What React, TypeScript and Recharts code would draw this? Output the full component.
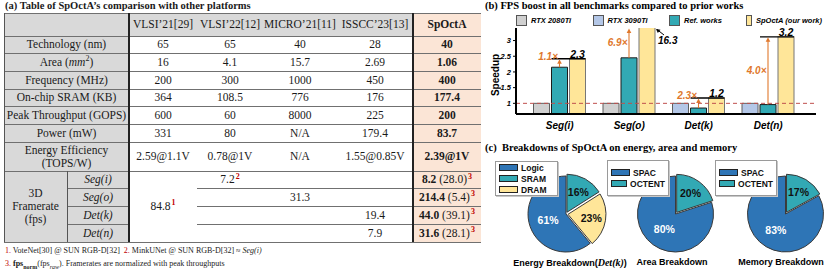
import React from 'react';
import { BarChart, Bar, XAxis, YAxis, Cell, ReferenceLine, PieChart, Pie } from 'recharts';

const SERIF = '"Liberation Serif", "Times New Roman", serif';
const SANS = '"Liberation Sans", Arial, sans-serif';
const GRAY = '#d9d9d9';
const PEACH = '#fbe5d6';
const RED = '#c00000';
const TEAL = '#32a9b4';
const YELLOW = '#ffe699';
const BLUE = '#2e75b6';
const ORANGE = '#e0782c';

// (a) table
const platforms = ['VLSI’21[29]', 'VLSI’22[12]', 'MICRO’21[11]', 'ISSCC’23[13]', 'SpOctA'];
const metricLabels = ['Technology (nm)', 'Area', 'Frequency (MHz)', 'On-chip SRAM (KB)', 'Peak Throughput (GOPS)', 'Power (mW)'];
const technology = ['65', '65', '40', '28', '40'];
const area = ['16', '4.1', '15.7', '2.69', '1.06'];
const frequency = ['200', '300', '1000', '450', '400'];
const sram = ['364', '108.5', '776', '176', '177.4'];
const peakThroughput = ['600', '60', '8000', '225', '200'];
const power = ['331', '80', 'N/A', '179.4', '83.7'];
const efficiency = ['2.59@1.1V', '0.78@1V', 'N/A', '1.55@0.85V', '2.39@1V'];
const benchmarks = ['Seg(i)', 'Seg(o)', 'Det(k)', 'Det(n)'];
const fpsVlsi21 = '84.8';
const fpsVlsi22 = ['7.2', '', '', ''];
const fpsMicro21 = ['', '31.3', '', ''];
const fpsIsscc23 = ['', '', '19.4', '7.9'];
const fpsNorm = ['8.2', '214.4', '44.0', '31.6'];
const fpsRaw = ['28.0', '5.4', '39.1', '28.1'];

// (b) speedup bars
const categories = ['Seg(i)', 'Seg(o)', 'Det(k)', 'Det(n)'];
const gpuNames = ['RTX 2080Ti', 'RTX 2080Ti', 'RTX 3090Ti', 'RTX 3090Ti'];
const gpuSpeedup = [1, 1, 1, 1];
const refSpeedup = [2.15, 2.45, 0.85, 0.96];
const oursSpeedup = [2.42, 16.3, 1.17, 3.12];
const oursLabels = ['2.3', '16.3', '1.2', '3.2'];
const boostLabels = ['1.1×', '6.9×', '2.3×', '4.0×'];
const legendNames = ['RTX 2080Ti', 'RTX 3090Ti', 'Ref. works', 'SpOctA (our work)'];
const yTicks = [1, 1.5, 2, 2.5, 3];

// (c) breakdowns
const energyNames = ['SRAM', 'DRAM', 'Logic'];
const energyShares = [16, 23, 61];
const areaNames = ['OCTENT', 'SPAC'];
const areaShares = [20, 80];
const memoryNames = ['OCTENT', 'SPAC'];
const memoryShares = [17, 83];

const partColor: Record<string, string> = { Logic: BLUE, SPAC: BLUE, SRAM: TEAL, OCTENT: TEAL, DRAM: YELLOW };
const gpuColor: Record<string, string> = { 'RTX 2080Ti': '#d0d0d0', 'RTX 3090Ti': '#b4c7e7' };
const legendColors = ['#d0d0d0', '#b4c7e7', TEAL, YELLOW];

const Y_MIN = 0.66;
const Y_MAX = 3.4;
const BAR_GAP = 2;

const Sup = ({ n }: { n: number }) => (
  <sup style={{ color: RED, fontSize: 8, fontWeight: 'bold', lineHeight: 0, marginLeft: 1 }}>{n}</sup>
);

function TCell({ x, y, w, h, bg, children, bold, italic }: any) {
  return (
    <div
      style={{
        position: 'absolute', left: x, top: y, width: w, height: h, background: bg,
        display: 'flex', alignItems: 'center', justifyContent: 'center', textAlign: 'center',
        fontWeight: bold ? 'bold' : 'normal', fontStyle: italic ? 'italic' : 'normal', whiteSpace: 'nowrap',
      }}
    >
      <span style={{ lineHeight: '13px' }}>{children}</span>
    </div>
  );
}

const Rule = ({ x, y, w, h, c }: any) => (
  <div style={{ position: 'absolute', left: x, top: y, width: w, height: h, background: c }} />
);

function metricLabel(i: number) {
  if (metricLabels[i] === 'Area') {
    return <>Area (<i>mm</i><sup style={{ fontSize: 8, lineHeight: 0 }}>2</sup>)</>;
  }
  return metricLabels[i];
}

function ComparisonTable() {
  const colX = [129, 197, 263, 337, 413, 481];
  const metricTops = [36, 53.7, 71.3, 89, 106.7, 124.3, 142];
  const frTops = [171, 188.75, 206.5, 224.25, 242];
  const metricRows = [technology, area, frequency, sram, peakThroughput, power];
  const cw = (c: number) => colX[c + 1] - colX[c];
  const cells: React.ReactNode[] = [];

  cells.push(<TCell key="corner" x={4} y={13} w={125} h={23} bg={GRAY} />);
  platforms.forEach((p, c) =>
    cells.push(<TCell key={'h' + c} x={colX[c]} y={13} w={cw(c)} h={23} bg={c === 4 ? PEACH : GRAY} bold={c === 4}>{p}</TCell>)
  );
  metricRows.forEach((vals, r) => {
    const y = metricTops[r];
    const h = metricTops[r + 1] - y;
    cells.push(<TCell key={'l' + r} x={4} y={y} w={125} h={h} bg={GRAY}>{metricLabel(r)}</TCell>);
    vals.forEach((v, c) =>
      cells.push(<TCell key={`v${r}-${c}`} x={colX[c]} y={y} w={cw(c)} h={h} bg={c === 4 ? PEACH : '#fff'} bold={c === 4}>{v}</TCell>)
    );
  });
  cells.push(<TCell key="eff" x={4} y={142} w={125} h={29} bg={GRAY}>Energy Efficiency<br />(TOPS/W)</TCell>);
  efficiency.forEach((v, c) =>
    cells.push(<TCell key={'e' + c} x={colX[c]} y={142} w={cw(c)} h={29} bg={c === 4 ? PEACH : '#fff'} bold={c === 4}>{v}</TCell>)
  );
  cells.push(<TCell key="fr" x={4} y={171} w={63} h={71} bg={GRAY}>3D<br />Framerate<br />(fps)</TCell>);
  cells.push(<TCell key="f21" x={colX[0]} y={171} w={cw(0)} h={71}>{fpsVlsi21}<Sup n={1} /></TCell>);
  benchmarks.forEach((b, r) => {
    const y = frTops[r];
    const h = frTops[r + 1] - y;
    cells.push(<TCell key={'b' + r} x={67} y={y} w={62} h={h} bg={GRAY} italic>{b}</TCell>);
    if (fpsVlsi22[r]) cells.push(<TCell key={'f22' + r} x={colX[1]} y={y} w={cw(1)} h={h}>{fpsVlsi22[r]}<Sup n={2} /></TCell>);
    if (fpsMicro21[r]) cells.push(<TCell key={'fm' + r} x={colX[2]} y={y} w={cw(2)} h={h}>{fpsMicro21[r]}</TCell>);
    if (fpsIsscc23[r]) cells.push(<TCell key={'fi' + r} x={colX[3]} y={y} w={cw(3)} h={h}>{fpsIsscc23[r]}</TCell>);
    cells.push(
      <TCell key={'fo' + r} x={colX[4]} y={y} w={cw(4)} h={h} bg={PEACH}>
        <b>{fpsNorm[r]}</b> ({fpsRaw[r]})<Sup n={3} />
      </TCell>
    );
  });

  const lines: React.ReactNode[] = [];
  [13, ...metricTops, 171, 242].forEach((y, i) => lines.push(<Rule key={'hl' + i} x={4} y={y - 0.5} w={477} h={1} c="#707070" />));
  frTops.slice(1, 4).forEach((y, i) => {
    lines.push(<Rule key={'fa' + i} x={67} y={y - 0.5} w={62} h={1} c="#707070" />);
    lines.push(<Rule key={'fb' + i} x={197} y={y - 0.5} w={284} h={1} c="#707070" />);
  });
  lines.push(<Rule key="v0" x={3.5} y={13} w={1} h={229} c="#555" />);
  lines.push(<Rule key="v1" x={128} y={13} w={2} h={229} c="#222" />);
  lines.push(<Rule key="v2" x={412} y={13} w={2} h={229} c="#222" />);
  lines.push(<Rule key="v3" x={66.5} y={171} w={1} h={71} c="#555" />);

  return (
    <div style={{ fontFamily: SERIF, fontSize: 11.5, color: '#1a1a1a' }}>
      <div style={{ position: 'absolute', left: 5, top: 0, fontWeight: 'bold', fontSize: 10.5, whiteSpace: 'nowrap' }}>
        (a) Table of SpOctA’s comparison with other platforms
      </div>
      {cells}
      {lines}
      <div style={{ position: 'absolute', left: 5, top: 246, fontSize: 8, whiteSpace: 'nowrap' }}>
        <span style={{ color: RED }}>1.</span> VoteNet[30] @ SUN RGB-D[32]&nbsp;&nbsp;<span style={{ color: RED }}>2.</span> MinkUNet @ SUN RGB-D[32] ≈ <i>Seg(i)</i>
      </div>
      <div style={{ position: 'absolute', left: 5, top: 259, fontSize: 8, whiteSpace: 'nowrap' }}>
        <span style={{ color: RED }}>3.</span> <b>fps<sub style={{ fontSize: 6 }}>norm</sub></b>(fps<sub style={{ fontSize: 6 }}><i>raw</i></sub>). Framerates are normalized with peak throughputs
      </div>
    </div>
  );
}

function upArrow(cx: number, tipY: number, color: string) {
  return <polygon points={`${cx - 2.3},${tipY + 4.5} ${cx + 2.3},${tipY + 4.5} ${cx},${tipY}`} fill={color} />;
}

function drawOursBar(props: any) {
  const { x, y, width, height, payload, fill, stroke } = props;
  const bottom = y + height;
  const k = height / (payload.ours - Y_MIN);
  const plotTop = bottom - (Y_MAX - Y_MIN) * k;
  const tealX = x - width - BAR_GAP;
  const tealCx = tealX + width / 2;
  const tealTop = bottom - (payload.refWork - Y_MIN) * k;
  const overflow = payload.ours > Y_MAX;
  const lineY = overflow ? plotTop : y;
  const gap = tealTop - lineY;
  const boostY = gap < 14 ? lineY - 2 : (tealTop + lineY) / 2;
  return (
    <g>
      <rect x={x} y={y} width={width} height={height} fill={fill} stroke={stroke} strokeWidth={1} />
      {!overflow && (
        <g>
          <line x1={tealX} x2={x + width} y1={lineY} y2={lineY} stroke="#000" strokeWidth={1.3} />
          <text x={x + width / 2} y={lineY - 0.8} textAnchor="middle" fontSize={10.5} fill="#000" fontFamily={SANS} fontWeight="bold" fontStyle="italic">{payload.oursLabel}</text>
        </g>
      )}
      {overflow && (
        <g>
          <text x={x + width + 3} y={plotTop + 12} dominantBaseline="central" fontSize={10} fill="#000" fontFamily={SANS} fontWeight="bold" fontStyle="italic">{payload.oursLabel}</text>
          <line x1={x + width + 9} y1={plotTop + 7} x2={x + width + 2} y2={plotTop + 1.5} stroke="#000" strokeWidth={1} />
          <polygon points={`${x + width + 1},${plotTop + 1} ${x + width + 5.5},${plotTop + 1.8} ${x + width + 2.8},${plotTop + 5}`} fill="#000" />
        </g>
      )}
      <line x1={tealCx} x2={tealCx} y1={tealTop} y2={lineY + 3} stroke={ORANGE} strokeWidth={1.1} />
      {upArrow(tealCx, lineY + 0.5, ORANGE)}
      <text x={tealCx - 1.5} y={boostY} textAnchor="end" dominantBaseline="central" fontSize={10} fill={ORANGE} fontFamily={SANS} fontWeight="bold" fontStyle="italic">{payload.boost}</text>
    </g>
  );
}

function SpeedupChart() {
  const data = categories.map((c, i) => ({
    cat: c, gpuName: gpuNames[i], gpu: gpuSpeedup[i], refWork: refSpeedup[i], ours: oursSpeedup[i],
    oursLabel: oursLabels[i], boost: boostLabels[i],
  }));
  const frame = { stroke: '#000', strokeWidth: 2 };
  return (
    <BarChart width={340} height={118} data={data} margin={{ top: 14, right: 6, bottom: 0, left: 0 }} barGap={BAR_GAP} barCategoryGap={8.5}>
      <XAxis dataKey="cat" height={18} padding={{ left: 9, right: 13 }} tickLine={false} axisLine={frame}
        tick={{ fill: '#000', fontSize: 10, fontWeight: 'bold', fontStyle: 'italic', fontFamily: SANS }} interval={0} />
      <XAxis xAxisId="top" orientation="top" dataKey="cat" height={0} tick={false} tickLine={false} axisLine={frame} />
      <YAxis domain={[Y_MIN, Y_MAX]} allowDataOverflow ticks={yTicks} interval={0} width={34} tickSize={3}
        tickLine={{ stroke: '#000' }} axisLine={frame}
        tick={{ fill: '#000', fontSize: 7.5, fontWeight: 'bold', fontStyle: 'italic', fontFamily: SANS }} />
      <YAxis yAxisId="right" orientation="right" width={0} domain={[0, 1]} tick={false} tickLine={false} axisLine={frame} />
      <ReferenceLine y={1} stroke="#c0504d" strokeDasharray="4 3" strokeWidth={1} />
      <Bar dataKey="gpu" isAnimationActive={false} stroke="#5f5f5f" strokeWidth={1}>
        {data.map((d, i) => <Cell key={i} fill={gpuColor[d.gpuName]} />)}
      </Bar>
      <Bar dataKey="refWork" isAnimationActive={false} fill={TEAL} stroke="#1c1c1c" strokeWidth={1} />
      <Bar dataKey="ours" isAnimationActive={false} fill={YELLOW} stroke="#777" shape={drawOursBar} />
    </BarChart>
  );
}

function SpeedupPanel() {
  return (
    <>
      <div style={{ position: 'absolute', left: 485, top: 0, fontFamily: SERIF, fontWeight: 'bold', fontSize: 10.5, whiteSpace: 'nowrap' }}>
        (b) FPS boost in all benchmarks compared to prior works
      </div>
      <div style={{ position: 'absolute', left: 482, top: 14 }}>
        <SpeedupChart />
      </div>
      <div style={{ position: 'absolute', left: 495, top: 75, transform: 'translate(-50%, -50%) rotate(-90deg)', fontFamily: SANS, fontWeight: 'bold', fontSize: 10 }}>
        Speedup
      </div>
      <div style={{ position: 'absolute', left: 516, top: 15, display: 'flex', fontFamily: SANS }}>
        {legendNames.map((n, i) => (
          <div key={n} style={{ width: 76.5, display: 'flex', alignItems: 'center' }}>
            <span style={{ width: 11, height: 11, background: legendColors[i], border: '1px solid #555', boxSizing: 'border-box', marginRight: 4 }} />
            <span style={{ fontSize: 7.5, fontWeight: 'bold', fontStyle: 'italic', whiteSpace: 'nowrap' }}>{n}</span>
          </div>
        ))}
      </div>
    </>
  );
}

function renderPies(id: string, names: string[], shares: number[], cx: number, cy: number) {
  const data = names.map((n, i) => ({ name: n, value: shares[i] }));
  const total = shares.reduce((a, b) => a + b, 0);
  let cum = 0;
  const mids = shares.map((v) => {
    const s = 90 - (360 * cum) / total;
    cum += v;
    const e = 90 - (360 * cum) / total;
    return (s + e) / 2;
  });
  const RAD = Math.PI / 180;
  return names.map((n, i) => {
    const base = partColor[n] === BLUE;
    const d = base ? 0 : 2;
    const pcx = cx + d * Math.cos(mids[i] * RAD);
    const pcy = cy - d * Math.sin(mids[i] * RAD);
    const label = (p: any) => {
      if (!p || p.index !== i) return <g />;
      const r = 38 * (base ? 0.5 : 0.62);
      const lx = pcx + r * Math.cos(mids[i] * RAD);
      const ly = pcy - r * Math.sin(mids[i] * RAD);
      return (
        <text x={lx} y={ly} textAnchor="middle" dominantBaseline="central" fontSize={10.5} fontWeight="bold"
          fontFamily={SANS} fill={base ? '#fff' : '#111'}>{`${shares[i]}%`}</text>
      );
    };
    return (
      <Pie key={id + i} data={data} dataKey="value" nameKey="name" cx={pcx} cy={pcy}
        outerRadius={38} startAngle={90} endAngle={-270} isAnimationActive={false} labelLine={false} label={label}>
        {data.map((_, j) => (
          <Cell key={j} fill={j === i ? partColor[n] : 'none'} stroke={j === i ? '#3a3a3a' : 'none'} strokeWidth={1} />
        ))}
      </Pie>
    );
  });
}

function PieLegend({ x, y, w, h, items }: any) {
  return (
    <div style={{
      position: 'absolute', left: x, top: y, width: w, height: h, background: '#fff', border: '1px solid #9a9a9a',
      boxShadow: '1px 1px 0 #c8c8c8', boxSizing: 'border-box', padding: '0 3px', fontFamily: SANS,
      display: 'flex', flexDirection: 'column', justifyContent: 'center', gap: 3,
    }}>
      {items.map((n: string) => (
        <div key={n} style={{ display: 'flex', alignItems: 'center', height: 8 }}>
          <span style={{ width: 19, height: 7, background: partColor[n], border: '1px solid #222', boxSizing: 'border-box', marginRight: 3 }} />
          <span style={{ fontSize: 8.5, fontWeight: 'bold', color: '#111' }}>{n}</span>
        </div>
      ))}
    </div>
  );
}

function Breakdowns() {
  const sub = { position: 'absolute', top: 257, width: 130, textAlign: 'center', fontFamily: SANS, fontWeight: 'bold', fontSize: 9, whiteSpace: 'nowrap' } as any;
  return (
    <>
      <div style={{ position: 'absolute', left: 485, top: 142, fontFamily: SERIF, fontWeight: 'bold', fontSize: 10.5, whiteSpace: 'nowrap' }}>
        (c)&nbsp; Breakdowns of SpOctA on energy, area and memory
      </div>
      <div style={{ position: 'absolute', left: 485, top: 155 }}>
        <PieChart width={345} height={116} margin={{ top: 0, right: 0, bottom: 0, left: 0 }}>
          {renderPies('e', energyNames, energyShares, 81, 59)}
          {renderPies('a', areaNames, areaShares, 190.5, 59)}
          {renderPies('m', memoryNames, memoryShares, 300.5, 59)}
        </PieChart>
      </div>
      <PieLegend x={495} y={161} w={63} h={35} items={['Logic', 'SRAM', 'DRAM']} />
      <PieLegend x={607} y={160} w={62} h={36} items={['SPAC', 'OCTENT']} />
      <PieLegend x={715} y={160} w={62} h={36} items={['SPAC', 'OCTENT']} />
      <div style={{ ...sub, left: 505 }}>
        Energy Breakdown(<i style={{ fontFamily: SERIF, fontSize: 10 }}>Det(k)</i>)
      </div>
      <div style={{ ...sub, left: 607 }}>Area Breakdown</div>
      <div style={{ ...sub, left: 716 }}>Memory Breakdown</div>
    </>
  );
}

export default function App() {
  return (
    <div style={{ position: 'absolute', left: 0, top: 0, width: 830, height: 271, background: '#fff', overflow: 'hidden' }}>
      <ComparisonTable />
      <SpeedupPanel />
      <Breakdowns />
    </div>
  );
}
